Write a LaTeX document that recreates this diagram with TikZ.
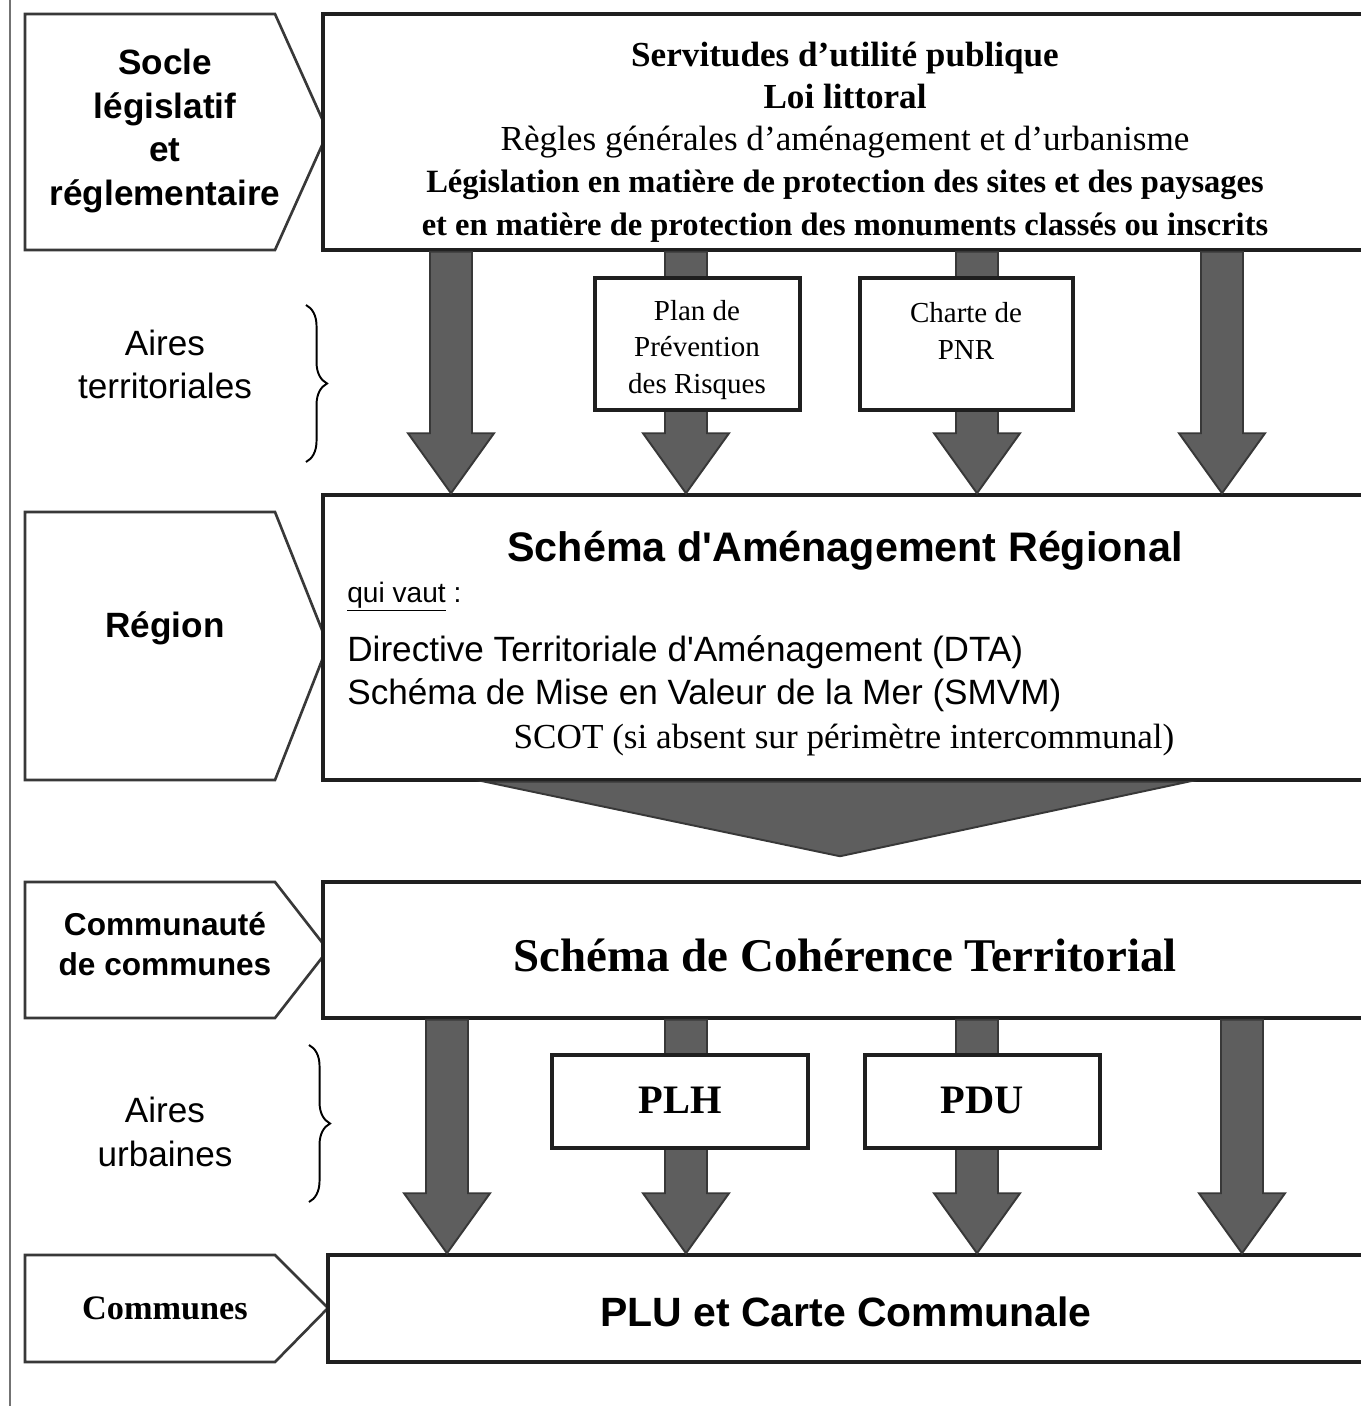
\documentclass[tikz,border=0pt]{standalone}
\usepackage{fontspec}
\setmainfont{Liberation Serif}
\setsansfont{Liberation Sans}
\usetikzlibrary{calc,fit,decorations.pathreplacing}

\tikzset{
  panel/.style={draw=black!88, line width=2pt, fill=white, inner sep=0pt},
  tag/.style={draw=black!78, line width=1.5pt, fill=white, line join=miter},
  flow/.style={fill=black!63, draw=black!78, line width=1.1pt, line join=miter},
  curly/.style={draw=black, line width=1.1pt, decorate,
    decoration={brace, amplitude=12pt, aspect=0.5}},
  sanslab/.style={font=\sffamily\fontsize{20}{24.5}\selectfont, align=center},
  sansbold/.style={font=\sffamily\bfseries\fontsize{20}{25}\selectfont, align=center},
  serifsmall/.style={font=\rmfamily\fontsize{16.5}{21}\selectfont, align=center},
}

% vertical arrow from the bottom of #2 to the top of #3, in the column of #1
\newcommand\flowarrow[3]{%
  \filldraw[flow] ($(#1 |- #2.south)+(-21,0)$) -- ($(#1 |- #3.north)+(-21,-60)$)
    -- ($(#1 |- #3.north)+(-43,-60)$) -- (#1 |- #3.north)
    -- ($(#1 |- #3.north)+(43,-60)$) -- ($(#1 |- #3.north)+(21,-60)$)
    -- ($(#1 |- #2.south)+(21,0)$) -- cycle;}

\begin{document}
\begin{tikzpicture}[x=0.02cm, y=-0.02cm]
\useasboundingbox (0,0) rectangle (1361,1406);
\clip (0,0) rectangle (1361,1406);
\fill[white] (0,0) rectangle (1361,1406);

% margin rule
\draw[black!55, line width=1.6pt] (10,0) -- (10,1406);

% level tags on the left
\draw[tag] (25,14) -- (275,14) -- (328,132) -- (275,250) -- (25,250) -- cycle;
\draw[tag] (25,512) -- (275,512) -- (328,645) -- (275,780) -- (25,780) -- cycle;
\draw[tag] (25,882) -- (275,882) -- (328,950) -- (275,1018) -- (25,1018) -- cycle;
\draw[tag] (25,1255) -- (275,1255) -- (328,1308) -- (275,1362) -- (25,1362) -- cycle;

\node[sansbold] (socle) at (165,131) {Socle\\législatif\\et\\réglementaire};
\node[sansbold] (region) at (165,628) {Région};
\node[sansbold, font=\sffamily\bfseries\fontsize{18}{23.2}\selectfont] (cc) at (165,944) {Communauté\\de communes};
\node[font=\rmfamily\bfseries\fontsize{19.5}{24}\selectfont] (communes) at (165,1308) {Communes};

% area braces
\node[sanslab] (terr) at (165,364) {Aires\\territoriales};
\draw[curly] (306,305) -- (306,462);
\node[sanslab, font=\sffamily\fontsize{20}{25}\selectfont] (urb) at (165,1132) {Aires\\urbaines};
\draw[curly] (309,1045) -- (309,1202);

% main panels
\node[panel, fit={(323,14) (1390,250)}] (sup) {};
\node[panel, fit={(323,495) (1390,780)}] (sar) {};
\node[panel, fit={(323,882) (1390,1018)}] (scot) {};
\node[panel, fit={(328,1255) (1390,1362)}] (plu) {};

% arrow columns
\coordinate (a1) at (451,0);
\coordinate (a2) at (686,0);
\coordinate (a3) at (977,0);
\coordinate (a4) at (1222,0);
\coordinate (b1) at (447,0);
\coordinate (b2) at (686,0);
\coordinate (b3) at (977,0);
\coordinate (b4) at (1242,0);
\coordinate (mid) at (840,0);

\flowarrow{a1}{sup}{sar}
\flowarrow{a2}{sup}{sar}
\flowarrow{a3}{sup}{sar}
\flowarrow{a4}{sup}{sar}
\flowarrow{b1}{scot}{plu}
\flowarrow{b2}{scot}{plu}
\flowarrow{b3}{scot}{plu}
\flowarrow{b4}{scot}{plu}

% wide arrow from the regional scheme to the SCOT
\filldraw[flow] ($(mid |- sar.south)+(-355,0)$) -- ($(mid |- sar.south)+(348,0)$)
  -- ($(mid |- scot.north)+(0,-24)$) -- cycle;

% intermediate documents
\node[panel, fit={(595,278) (800,410)}] (ppr) {};
\node[panel, fit={(860,278) (1073,410)}] (pnr) {};
\node[panel, fit={(552,1055) (808,1148)}] (plh) {};
\node[panel, fit={(865,1055) (1100,1148)}] (pdu) {};

\node[serifsmall] at (697,350) {Plan de\\Prévention\\des Risques};
\node[serifsmall, anchor=north] at (966,296) {Charte de\\PNR};
\node[font=\rmfamily\bfseries\fontsize{23}{27}\selectfont] at (680,1100) {PLH};
\node[font=\rmfamily\bfseries\fontsize{23}{27}\selectfont] at (982,1100) {PDU};

% panel texts
\node[font=\rmfamily\fontsize{20}{24}\selectfont, align=center] (suptext) at (845,142)
  {\textbf{Servitudes d'utilité publique}\\
   \textbf{Loi littoral}\\
   Règles générales d'aménagement et d'urbanisme\\
   {\fontsize{18.5}{24}\selectfont\textbf{Législation en matière de protection des sites et des paysages}}\\
   {\fontsize{18.5}{24}\selectfont\textbf{et en matière de protection des monuments classés ou inscrits}}};

\node[font=\sffamily\bfseries\fontsize{23.5}{28}\selectfont] (sartitle) at (845,551) {Schéma d\textquotesingle Aménagement Régional};
\node[font=\sffamily\fontsize{16}{20}\selectfont, anchor=west, inner sep=0pt] at (347,597) {\underline{qui vaut} :};
\node[font=\sffamily\fontsize{20}{24}\selectfont, anchor=west, inner sep=0pt] at (347,652) {Directive Territoriale d\textquotesingle Aménagement (DTA)};
\node[font=\sffamily\fontsize{20}{24}\selectfont, anchor=west, inner sep=0pt] at (347,695) {Schéma de Mise en Valeur de la Mer (SMVM)};
\node[font=\rmfamily\fontsize{20}{24}\selectfont] at (844,740) {SCOT (si absent sur périmètre intercommunal)};

\node[font=\rmfamily\bfseries\fontsize{26.7}{30}\selectfont] (scottitle) at (845,955) {Schéma de Cohérence Territorial};
\node[font=\sffamily\bfseries\fontsize{23.3}{28}\selectfont] (plutitle) at (846,1312) {PLU et Carte Communale};
\end{tikzpicture}
\end{document}
